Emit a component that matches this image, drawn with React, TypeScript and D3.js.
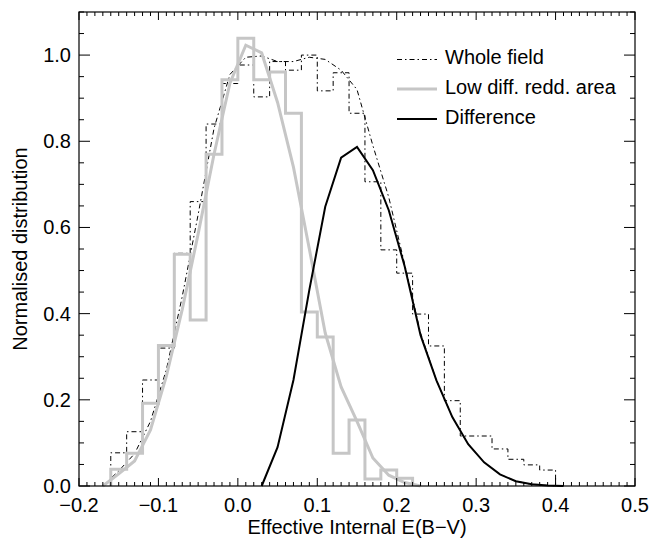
import React from "react";
import * as d3 from "d3";

// ---------- data ----------
const binEdgesStart = -0.16;
const binWidth = 0.02;

// Whole field histogram (bins of 0.02 starting at -0.16)
const wholeHist = [
  0.077, 0.126, 0.246, 0.32, 0.54, 0.66, 0.84, 0.934, 0.977, 0.903, 0.985, 0.965,
  1.0, 0.917, 0.959, 0.865, 0.706, 0.548, 0.494, 0.399, 0.325, 0.198, 0.116, 0.116,
  0.086, 0.062, 0.049, 0.037,
];

// Low diff. redd. area histogram (bins of 0.02 starting at -0.16)
const lowHist = [
  0.039, 0.076, 0.192, 0.326, 0.538, 0.385, 0.77, 0.943, 1.039, 0.943, 0.961, 0.865,
  0.404, 0.346, 0.076, 0.153, 0.016, 0.037, 0.018,
];

// Smooth curves sampled at bin centres
const wholeCurveX = [
  -0.17, -0.15, -0.13, -0.11, -0.09, -0.07, -0.05, -0.03, -0.01, 0.01, 0.03, 0.05, 0.07,
  0.09, 0.11, 0.13, 0.15, 0.17, 0.19, 0.21, 0.23, 0.25, 0.27, 0.29, 0.31, 0.33, 0.35,
  0.37, 0.39, 0.41,
];
const wholeCurveY = [
  0.0, 0.035, 0.075, 0.15, 0.27, 0.44, 0.63, 0.83, 0.955, 0.995, 0.998, 0.985, 0.985,
  0.995, 0.99, 0.965, 0.92, 0.79, 0.67, 0.515, 0.355, 0.245, 0.16, 0.097, 0.055, 0.027,
  0.011, 0.004, 0.001, 0.0,
];

const lowCurveX = [
  -0.17, -0.15, -0.13, -0.11, -0.09, -0.07, -0.05, -0.03, -0.01, 0.01, 0.03, 0.05, 0.07,
  0.09, 0.11, 0.13, 0.15, 0.17, 0.19, 0.21, 0.23,
];
const lowCurveY = [
  0.0, 0.028, 0.058, 0.13, 0.255, 0.41, 0.585, 0.77, 0.935, 1.023, 1.005, 0.89, 0.74,
  0.55, 0.355, 0.23, 0.15, 0.065, 0.025, 0.008, 0.0,
];

const diffCurveX = [
  0.03, 0.05, 0.07, 0.09, 0.11, 0.13, 0.15, 0.17, 0.19, 0.21, 0.23, 0.25, 0.27, 0.29,
  0.31, 0.33, 0.35, 0.37, 0.39, 0.41,
];
const diffCurveY = [
  0.0, 0.09, 0.246, 0.455, 0.648, 0.762, 0.787, 0.733, 0.64, 0.51, 0.35, 0.245, 0.16,
  0.097, 0.055, 0.027, 0.011, 0.004, 0.001, 0.0,
];

const xMajorTicks = [-0.2, -0.1, 0.0, 0.1, 0.2, 0.3, 0.4, 0.5];
const yMajorTicks = [0.0, 0.2, 0.4, 0.6, 0.8, 1.0];

const legendLabels = ["Whole field", "Low diff. redd. area", "Difference"];

// ---------- layout ----------
const W = 663;
const H = 540;
const left = 79;
const right = 635;
const top = 12;
const bottom = 486;

const FONT = "'Liberation Sans', Arial, Helvetica, sans-serif";
const GRAY = "#c6c6c6";
const DASHDOT = "5,3,1.5,3";

export default function App() {
  const x = d3.scaleLinear().domain([-0.2, 0.5]).range([left, right]);
  const y = d3.scaleLinear().domain([0, 1.1]).range([bottom, top]);

  const stepPath = (vals: number[]) => {
    const pts: [number, number][] = [];
    pts.push([binEdgesStart, 0]);
    vals.forEach((v, i) => {
      const x0 = binEdgesStart + i * binWidth;
      pts.push([x0, v]);
      pts.push([x0 + binWidth, v]);
    });
    pts.push([binEdgesStart + vals.length * binWidth, 0]);
    return d3.line<[number, number]>().x((d) => x(d[0])).y((d) => y(d[1]))(pts) || "";
  };

  const curvePath = (xs: number[], ys: number[]) =>
    d3
      .line<number>()
      .x((_, i) => x(xs[i]))
      .y((d) => y(d))(ys) || "";

  const xMinor = d3.range(0, 71).map((i) => -0.2 + i * 0.01);
  const yMinor = d3.range(0, 23).map((i) => i * 0.05);

  const fmt = d3.format(".1f");
  const fmtX = (v: number) => fmt(v).replace("-", "\u2212");

  const legendX0 = 397;
  const legendX1 = 437;
  const legendBase = [64, 93.5, 123.5];

  return (
    <svg
      width={W}
      height={H}
      style={{ position: "absolute", left: 0, top: 0, background: "#fff" }}
      fontFamily={FONT}
    >
      <rect x={0} y={0} width={W} height={H} fill="#fff" />
      <g>
        <path d={stepPath(wholeHist)} fill="none" stroke="#000" strokeWidth={1} strokeDasharray={DASHDOT} />
        <path d={curvePath(wholeCurveX, wholeCurveY)} fill="none" stroke="#000" strokeWidth={1} strokeDasharray={DASHDOT} />
        <path d={stepPath(lowHist)} fill="none" stroke={GRAY} strokeWidth={3} />
        <path d={curvePath(lowCurveX, lowCurveY)} fill="none" stroke={GRAY} strokeWidth={3} />
        <path d={curvePath(diffCurveX, diffCurveY)} fill="none" stroke="#000" strokeWidth={2} />
      </g>

      {/* frame */}
      <rect x={left} y={top} width={right - left} height={bottom - top} fill="none" stroke="#000" strokeWidth={1.2} />

      {/* x ticks */}
      {xMinor.map((v, i) => {
        const major = i % 10 === 0;
        const len = major ? 8 : 4;
        return (
          <g key={"xm" + i}>
            <line x1={x(v)} x2={x(v)} y1={bottom} y2={bottom - len} stroke="#000" strokeWidth={1} />
            <line x1={x(v)} x2={x(v)} y1={top} y2={top + len} stroke="#000" strokeWidth={1} />
          </g>
        );
      })}
      {/* y ticks */}
      {yMinor.map((v, i) => {
        const major = i % 4 === 0;
        const len = major ? 11 : 5;
        return (
          <g key={"ym" + i}>
            <line x1={left} x2={left + len} y1={y(v)} y2={y(v)} stroke="#000" strokeWidth={1} />
            <line x1={right} x2={right - len} y1={y(v)} y2={y(v)} stroke="#000" strokeWidth={1} />
          </g>
        );
      })}

      {/* x tick labels */}
      {xMajorTicks.map((v) => (
        <text key={"xl" + v} x={x(v)} y={512} textAnchor="middle" fontSize={20} fill="#000">
          {fmtX(v)}
        </text>
      ))}
      {/* y tick labels */}
      {yMajorTicks.map((v) => (
        <text key={"yl" + v} x={71} y={y(v) + 7} textAnchor="end" fontSize={20} fill="#000">
          {fmt(v)}
        </text>
      ))}

      {/* axis titles */}
      <text x={(left + right) / 2} y={534} textAnchor="middle" fontSize={20} fill="#000">
        Effective Internal E(B−V)
      </text>
      <text
        transform={`translate(27,${(top + bottom) / 2}) rotate(-90)`}
        textAnchor="middle"
        fontSize={20}
        fill="#000"
      >
        Normalised distribution
      </text>

      {/* legend */}
      <g>
        <line x1={legendX0} x2={legendX1} y1={legendBase[0] - 4.5} y2={legendBase[0] - 4.5} stroke="#000" strokeWidth={1} strokeDasharray={DASHDOT} />
        <line x1={legendX0} x2={legendX1} y1={legendBase[1] - 4.5} y2={legendBase[1] - 4.5} stroke={GRAY} strokeWidth={3} />
        <line x1={legendX0} x2={legendX1} y1={legendBase[2] - 4.5} y2={legendBase[2] - 4.5} stroke="#000" strokeWidth={2} />
        {legendLabels.map((t, i) => (
          <text key={t} x={445} y={legendBase[i]} fontSize={20} fill="#000">
            {t}
          </text>
        ))}
      </g>
    </svg>
  );
}
